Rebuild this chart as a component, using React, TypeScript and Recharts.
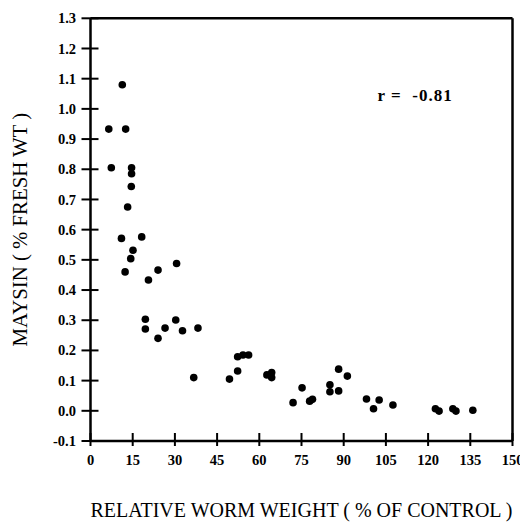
import React from "react";
import { ScatterChart, Scatter, XAxis, YAxis, ReferenceDot } from "recharts";

// relative worm weight (% of control)
const wormWeight = [
  11.3, 6.5, 12.5, 7.4, 14.6, 14.6, 14.5, 13.2,
  11.0, 18.2, 15.1, 14.3, 12.3, 24.0, 30.6, 20.6,
  19.5, 19.5, 30.3, 26.5, 24.0, 32.7, 38.2,
  36.7, 49.4, 52.3, 52.3, 54.2, 56.2, 62.7, 64.4, 64.4,
  72.0, 75.2, 77.9, 78.9, 85.1, 85.1, 88.2, 88.2, 91.3,
  98.1, 100.6, 102.6, 107.5, 122.6, 123.9, 128.8, 129.9, 135.9,
];

// maysin (% fresh wt)
const maysin = [
  1.08, 0.933, 0.933, 0.805, 0.805, 0.785, 0.743, 0.675,
  0.571, 0.576, 0.532, 0.504, 0.46, 0.466, 0.488, 0.433,
  0.303, 0.271, 0.301, 0.274, 0.24, 0.265, 0.274,
  0.11, 0.105, 0.132, 0.179, 0.185, 0.185, 0.119, 0.127, 0.11,
  0.027, 0.076, 0.032, 0.038, 0.086, 0.063, 0.138, 0.066, 0.115,
  0.039, 0.007, 0.036, 0.019, 0.007, -0.001, 0.007, -0.001, 0.002,
];

const xTicks = [0, 15, 30, 45, 60, 75, 90, 105, 120, 135, 150];
const yTicks = [-0.1, 0, 0.1, 0.2, 0.3, 0.4, 0.5, 0.6, 0.7, 0.8, 0.9, 1.0, 1.1, 1.2, 1.3];

const points = wormWeight.map((w, i) => ({ x: w, y: maysin[i] }));

const FONT = "'Liberation Serif', 'Times New Roman', serif";
const tickStyle = { fontSize: 14.5, fontWeight: 700, fill: "#000", fontFamily: FONT };

// default tickSize 6 + tickMargin 2 => tick props sit 8px off the axis line
const OFF = 8;

const XTick = ({ x, y, payload }: any) => {
  const y0 = y - OFF;
  return (
    <g>
      <path d={`M${x},${y0 - 8}V${y0 + 5}`} stroke="#000" strokeWidth={2} fill="none" />
      <text x={x} y={y0 + 24} textAnchor="middle" style={tickStyle}>{payload.value}</text>
    </g>
  );
};

const YTick = ({ x, y, payload }: any) => {
  const x0 = x + OFF;
  return (
    <g>
      <path d={`M${x0 - 9},${y}H${x0 + 8}`} stroke="#000" strokeWidth={2} fill="none" />
      <text x={x0 - 14.5} y={y} dy="0.35em" textAnchor="end" style={tickStyle}>
        {Number(payload.value).toFixed(1)}
      </text>
    </g>
  );
};

const TopTick = ({ x, y }: any) => (
  <path d={`M${x},${y - OFF}V${y - OFF + 7}`} stroke="#000" strokeWidth={2} fill="none" />
);
const RightTick = ({ x, y }: any) => (
  <path d={`M${x + OFF - 7},${y}H${x + OFF}`} stroke="#000" strokeWidth={2} fill="none" />
);

const Dot = (props: any) => <circle cx={props.cx} cy={props.cy} r={3.8} fill="#000" />;

export default function App() {
  return (
    <div style={{ width: 520, height: 515 }}>
      <ScatterChart width={520} height={515} margin={{ top: 10.3, right: 15.5, bottom: 0, left: 0 }}>
        <XAxis
          xAxisId="b"
          type="number"
          dataKey="x"
          domain={[0, 150]}
          ticks={xTicks}
          interval={0}
          height={82}
          stroke="#000"
          strokeWidth={2.5}
          tick={XTick}
          tickLine={false}
          label={{
            value: "RELATIVE WORM WEIGHT ( % OF CONTROL )",
            position: "insideBottom",
            offset: 6.5,
            style: { fontSize: 20, fontFamily: FONT, fill: "#000" },
          }}
        />
        <XAxis
          xAxisId="top"
          type="number"
          domain={[0, 150]}
          ticks={xTicks}
          interval={0}
          orientation="top"
          mirror
          stroke="#000"
          strokeWidth={2.5}
          tick={TopTick}
          tickLine={false}
        />
        <YAxis
          yAxisId="l"
          type="number"
          dataKey="y"
          domain={[-0.1, 1.3]}
          ticks={yTicks}
          interval={0}
          width={82.5}
          stroke="#000"
          strokeWidth={2.5}
          tick={YTick}
          tickLine={false}
          label={{
            value: "MAYSIN ( % FRESH WT )",
            angle: -90,
            position: "insideLeft",
            offset: 12,
            style: { fontSize: 20.8, fontFamily: FONT, fill: "#000", textAnchor: "middle" },
          }}
        />
        <YAxis
          yAxisId="r"
          type="number"
          domain={[-0.1, 1.3]}
          ticks={yTicks}
          interval={0}
          orientation="right"
          mirror
          stroke="#000"
          strokeWidth={2.5}
          tick={RightTick}
          tickLine={false}
        />
        <Scatter data={points} xAxisId="b" yAxisId="l" shape={Dot} isAnimationActive={false} />
        <ReferenceDot
          xAxisId="b"
          yAxisId="l"
          x={115.4}
          y={1.047}
          r={0}
          fill="none"
          stroke="none"
          label={{
            value: "r =\u00a0\u00a0-0.81",
            position: "center",
            style: { fontSize: 17, fontWeight: 700, fontFamily: FONT, fill: "#000", letterSpacing: 1 },
          }}
        />
      </ScatterChart>
    </div>
  );
}
